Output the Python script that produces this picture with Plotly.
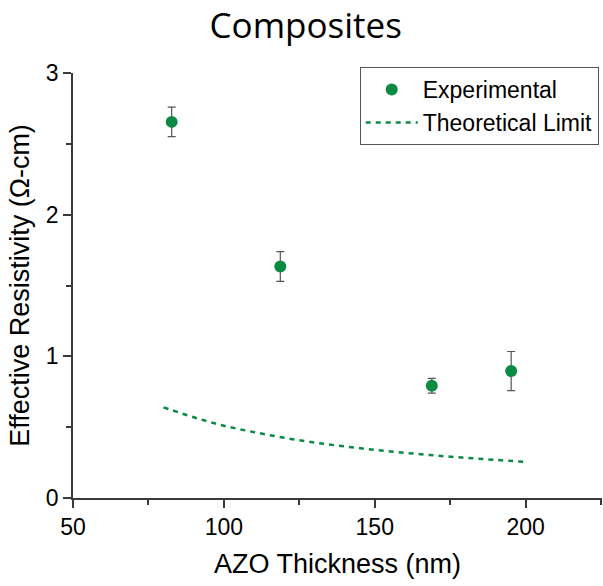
import plotly.graph_objects as go

# Experimental data
exp_x = [82.7, 118.7, 168.9, 195.2]
exp_y = [2.655, 1.634, 0.792, 0.896]
exp_err = [0.104, 0.105, 0.052, 0.138]

# Theoretical limit
theo_x = [80, 90, 100, 110, 120, 130, 140, 150, 160, 170, 180, 190, 200]
theo_y = [0.64, 0.57, 0.51, 0.465, 0.425, 0.392, 0.364, 0.34, 0.319, 0.300, 0.284, 0.269, 0.255]

green = "#0b8a44"
axis_col = "#3a3a3a"
sans = "Liberation Sans, Arial"

fig = go.Figure()
fig.add_trace(go.Scatter(
    x=exp_x, y=exp_y, mode="markers", name="Experimental",
    marker=dict(color=green, size=12),
    error_y=dict(type="data", array=exp_err, visible=True, color="#555555", thickness=1.2, width=4),
))
fig.add_trace(go.Scatter(
    x=theo_x, y=theo_y, mode="lines", name="Theoretical Limit",
    line=dict(color=green, width=2.5, dash="5px,5px", shape="spline"),
))

fig.update_layout(
    width=603, height=586,
    margin=dict(l=73, r=1, t=73, b=88),
    paper_bgcolor="white", plot_bgcolor="white",
    title=dict(text="Composites", x=0.507, xref="container", xanchor="center",
               y=0.956, yref="container", yanchor="middle",
               font=dict(family="Open Sans", size=35, color="black")),
    font=dict(family=sans, color="black"),
    showlegend=True,
    legend=dict(x=0.542, y=1.014, xanchor="left", yanchor="top",
                bordercolor="#555555", borderwidth=1, bgcolor="white",
                font=dict(size=23, family=sans, color="black"),
                tracegroupgap=0, itemwidth=52),
)
fig.update_xaxes(
    range=[50, 225.3], tickmode="linear", tick0=50, dtick=50,
    showgrid=False, zeroline=False, showline=True, linecolor=axis_col, linewidth=1.5,
    ticks="outside", ticklen=8, tickwidth=1.5, tickcolor=axis_col,
    tickfont=dict(size=23, family=sans, color="black"),
    minor=dict(ticks="outside", ticklen=5, dtick=25, tick0=50, tickcolor=axis_col, tickwidth=1.5, showgrid=False),
    title=dict(text="AZO Thickness (nm)", font=dict(size=27, family=sans, color="black"), standoff=15),
)
fig.update_yaxes(
    range=[0, 3], tickmode="linear", tick0=0, dtick=1,
    showgrid=False, zeroline=False, showline=True, linecolor=axis_col, linewidth=1.5,
    ticks="outside", ticklen=8, tickwidth=1.5, tickcolor=axis_col,
    tickfont=dict(size=23, family=sans, color="black"),
    minor=dict(ticks="outside", ticklen=5, dtick=0.5, tick0=0, tickcolor=axis_col, tickwidth=1.5, showgrid=False),
    title=dict(text="Effective Resistivity (Ω-cm)", font=dict(size=27, family=sans, color="black"), standoff=8),
)

fig.write_html("out.html")
